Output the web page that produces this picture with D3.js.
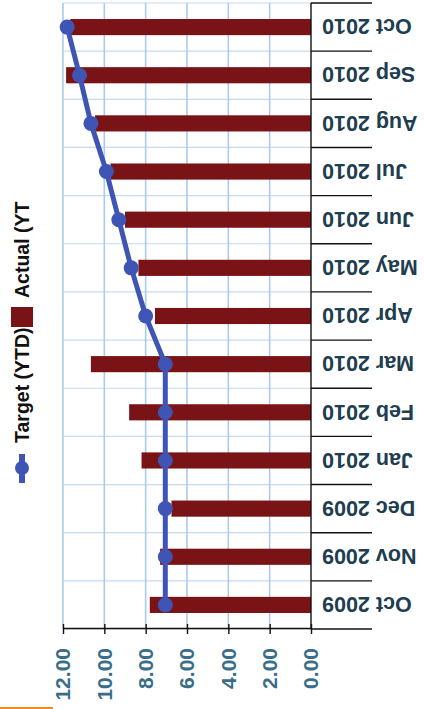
<!DOCTYPE html>
<html>
<head>
<meta charset="utf-8">
<script src="https://cdn.jsdelivr.net/npm/d3@7"></script>
<style>
  html, body { margin: 0; padding: 0; background: #fff; }
  svg { display: block; }
</style>
</head>
<body>
<script>
// Monthly year-to-date figures
const months = ["Oct 2009", "Nov 2009", "Dec 2009", "Jan 2010", "Feb 2010", "Mar 2010",
                "Apr 2010", "May 2010", "Jun 2010", "Jul 2010", "Aug 2010", "Sep 2010", "Oct 2010"];
const actualYTD = [7.8, 7.3, 6.75, 8.2, 8.8, 10.65, 7.55, 8.35, 9.0, 9.7, 10.45, 11.85, 11.65];
const targetYTD = [7.05, 7.05, 7.05, 7.05, 7.05, 7.05, 8.0, 8.7, 9.3, 9.9, 10.65, 11.2, 11.8];
const valueTicks = [0, 2, 4, 6, 8, 10, 12];
const seriesNames = ["Target (YTD)", "Actual (YTD)"];

const W = 424, H = 709;
const FONT = "'Liberation Sans', Arial, sans-serif";
const BAR = "#7a1315", LINE = "#3f55b6", GRID = "#a9cbee";

const svg = d3.select("body").append("svg")
  .attr("width", W).attr("height", H);

// The chart is laid out landscape (709 x 424) and turned a quarter turn.
const g = svg.append("g").attr("transform", `translate(0,${H}) rotate(-90)`);

const plot = { left: 80, right: 706, top: 63, bottom: 311 };
const x = d3.scaleBand().domain(months).range([plot.left, plot.right]);
const y = d3.scaleLinear().domain([0, 12]).range([plot.bottom, plot.top]);
const bw = x.bandwidth();
const barW = bw * 0.335;

// category boundary gridlines
const bounds = months.map(m => x(m)).concat([plot.right]);
g.append("g").selectAll("line").data(bounds).join("line")
  .attr("x1", d => d).attr("x2", d => d)
  .attr("y1", plot.top).attr("y2", plot.bottom)
  .attr("stroke", "#c3dbf3").attr("stroke-width", 1.2);

// value gridlines
g.append("g").selectAll("line").data(valueTicks.filter(v => v > 0)).join("line")
  .attr("x1", plot.left).attr("x2", plot.right)
  .attr("y1", d => y(d)).attr("y2", d => y(d))
  .attr("stroke", GRID).attr("stroke-width", 1.6);

// actual bars
g.append("g").selectAll("rect").data(months).join("rect")
  .attr("x", (m) => x(m) + (bw - barW) / 2)
  .attr("width", barW)
  .attr("y", (m, i) => y(actualYTD[i]))
  .attr("height", (m, i) => y(0) - y(actualYTD[i]))
  .attr("fill", BAR);

// category axis with long separators between labels
g.append("line")
  .attr("x1", plot.left).attr("x2", plot.right)
  .attr("y1", plot.bottom).attr("y2", plot.bottom)
  .attr("stroke", "#111").attr("stroke-width", 1.4);
g.append("g").selectAll("line").data(bounds).join("line")
  .attr("x1", d => d).attr("x2", d => d)
  .attr("y1", plot.bottom).attr("y2", plot.bottom + 61)
  .attr("stroke", "#111").attr("stroke-width", 1.4);

const xAxis = g.append("g")
  .attr("transform", `translate(0,${plot.bottom})`)
  .call(d3.axisBottom(x).tickSize(0).tickPadding(0));
xAxis.select(".domain").remove();
xAxis.selectAll("text")
  .attr("transform", "translate(0,11) rotate(-90)")
  .attr("x", 0).attr("y", 0).attr("dy", "0.36em")
  .attr("text-anchor", "end")
  .attr("font-family", FONT).attr("font-weight", "bold")
  .attr("font-size", 21.5).attr("fill", "#213d50");

// value axis
const yAxis = g.append("g")
  .attr("transform", `translate(${plot.left},0)`)
  .call(d3.axisLeft(y).tickValues(valueTicks).tickFormat(d3.format(".2f"))
    .tickSizeInner(5).tickSizeOuter(0).tickPadding(14));
yAxis.select(".domain").attr("stroke", "#111").attr("stroke-width", 1.4);
yAxis.selectAll(".tick line").attr("x1", 5).attr("x2", -5)
  .attr("stroke", "#111").attr("stroke-width", 1.4);
yAxis.selectAll("text")
  .attr("font-family", FONT).attr("font-weight", "bold")
  .attr("font-size", 21).attr("fill", "#3a6d88");

// target line with markers
const cx = m => x(m) + bw / 2;
g.append("path")
  .datum(months)
  .attr("fill", "none").attr("stroke", LINE).attr("stroke-width", 5)
  .attr("stroke-linejoin", "round")
  .attr("d", d3.line().x(m => cx(m)).y((m, i) => y(targetYTD[i])));
g.append("g").selectAll("circle").data(months).join("circle")
  .attr("cx", m => cx(m))
  .attr("cy", (m, i) => y(targetYTD[i]))
  .attr("r", 7.5).attr("fill", LINE);

// legend (its box cuts the second entry short)
const legend = g.append("g").attr("transform", "translate(0,22)");
legend.append("line").attr("x1", 226).attr("x2", 255)
  .attr("stroke", LINE).attr("stroke-width", 6);
legend.append("circle").attr("cx", 241).attr("r", 7).attr("fill", LINE);
legend.append("text").attr("x", 266).attr("dy", "0.36em")
  .attr("font-family", FONT).attr("font-weight", "bold")
  .attr("font-size", 19.5).attr("fill", "#111").text(seriesNames[0]);
legend.append("rect").attr("x", 382).attr("y", -11).attr("width", 20).attr("height", 22)
  .attr("fill", BAR);
svg.append("defs").append("clipPath").attr("id", "legend-clip")
  .append("rect").attr("x", 0).attr("y", -30).attr("width", 508).attr("height", 60);
legend.append("text").attr("x", 411).attr("dy", "0.36em")
  .attr("clip-path", "url(#legend-clip)")
  .attr("font-family", FONT).attr("font-weight", "bold")
  .attr("font-size", 19.5).attr("fill", "#111").text(seriesNames[1]);

// accent rule at the lower-left edge
svg.append("rect").attr("x", 0).attr("y", H - 2).attr("width", 53).attr("height", 2)
  .attr("fill", "#f08a24");
</script>
</body>
</html>
